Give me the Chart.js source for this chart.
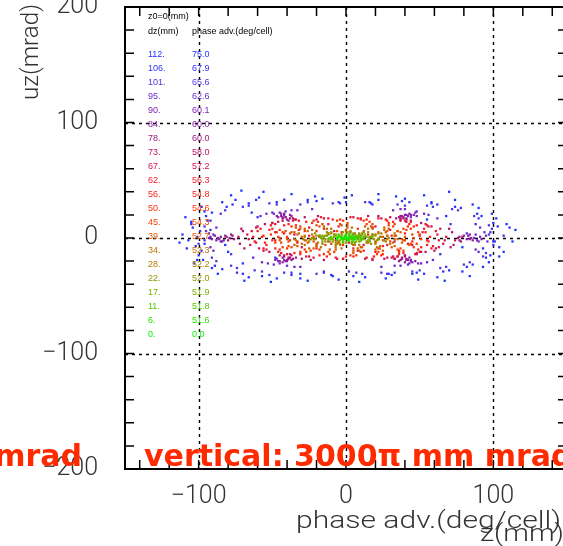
<!DOCTYPE html>
<html>
<head>
<meta charset="utf-8">
<script src="https://cdn.jsdelivr.net/npm/chart.js@4.4.1/dist/chart.umd.min.js"></script>
<style>
  html, body { margin: 0; padding: 0; background: #fff; overflow: hidden; }
  #wrap { position: absolute; left: 0; top: 0; width: 600px; height: 546px; }
</style>
</head>
<body>
<div id="wrap"><canvas id="chart" width="600" height="546"></canvas></div>
<script>
// dz groups, top row of the legend first
const dzLabels = ['112.', '106.', '101.', '95.', '90.', '84.', '78.', '73.', '67.', '62.', '56.',
  '50.', '45.', '39.', '34.', '28.', '22.', '17.', '11.', '6.', '0.'];
const phaseLabels = ['75.0', '67.9', '65.6', '62.6', '60.1', '60.0', '60.0', '58.0', '57.2', '56.3', '54.8',
  '54.6', '54.3', '52.7', '52.3', '52.2', '52.0', '51.9', '51.8', '51.6', '0.0'];
const groupColors = ['rgb(30,50,255)', 'rgb(45,50,240)', 'rgb(75,55,225)', 'rgb(105,40,205)', 'rgb(125,35,185)',
  'rgb(140,30,160)', 'rgb(160,25,130)', 'rgb(185,20,100)', 'rgb(210,20,75)', 'rgb(235,25,45)', 'rgb(250,35,25)',
  'rgb(255,50,0)', 'rgb(240,70,0)', 'rgb(215,90,0)', 'rgb(195,110,0)', 'rgb(170,130,0)', 'rgb(145,150,0)',
  'rgb(120,175,0)', 'rgb(80,200,0)', 'rgb(40,225,0)', 'rgb(0,245,0)'];

// [z (mm), uz (mrad)] per group
const g112 = [[-111,3],[-108,-9],[-105,14],[-101,-19],[-96,23],[-91,-26],[-84,31],[-78,37],[-71,41],[-66,-34],
  [-59,35],[-51,-38],[-42,33],[-31,-35],[-21,36],[-9,-33],[-1,35],[9,-38],[16,31],[27,-35],[34,36],[45,-31],
  [53,37],[62,-34],[70,40],[79,-29],[86,29],[93,-25],[99,21],[104,-16],[109,12],[113,-3],[115,7],[79,-8],[-82,-6],[-64,22],
  [-113,-4],[-109,18],[-103,-22],[-98,27],[-87,-31],[-80,-12],[-75,33],[-69,-37],[-56,40],[-47,-35],[-37,38],
  [-26,-37],[-16,34],[-5,-36],[4,37],[13,-34],[22,38],[31,-32],[40,34],[49,-36],[58,30],[67,-37],[74,33],
  [84,-33],[90,26],[97,-21],[102,17],[107,-12],[111,9],[88,12],[-92,15],[-70,-22],[68,19],[100,-3]];
const g106 = [[-107,-2],[-104,9],[-100,-15],[-95,19],[-89,-24],[-81,27],[-74,-30],[-66,30],[-57,-33],[-47,31],
  [-37,-32],[-26,33],[-15,-30],[-5,31],[5,-33],[17,30],[28,-31],[38,32],[48,-30],[58,31],[66,-29],[74,27],
  [82,-25],[89,21],[95,-17],[100,13],[104,-8],[107,2],[-92,7],[93,-9],[-48,-17],[55,16],
  [-105,12],[-102,-7],[-97,-19],[-91,22],[-84,-27],[-77,29],[-70,-31],[-61,33],[-52,-32],[-42,33],[-31,-31],
  [-20,32],[-10,-32],[0,31],[11,-31],[22,33],[33,-30],[43,31],[53,-31],[62,29],[70,-28],[78,26],[86,-23],
  [92,19],[98,-15],[103,10],[-60,18],[64,-14],[-96,-5],[98,5]];
const g101 = [[-101,1],[-98,-11],[-94,15],[-88,-20],[-82,24],[-74,-26],[-66,28],[-57,-29],[-47,29],[-37,-30],
  [-26,31],[-15,-29],[-4,30],[7,-30],[18,29],[29,-31],[40,28],[50,-28],[59,27],[68,-25],[76,24],[84,-21],
  [90,17],[95,-13],[99,8],[101,-3],[-99,6],[97,3],[-78,-14],[71,12],
  [-100,-5],[-96,10],[-91,-17],[-85,21],[-78,-24],[-70,27],[-62,-28],[-52,30],[-42,-30],[-31,29],[-20,-31],
  [-9,30],[2,-29],[13,31],[24,-30],[35,29],[45,-29],[55,28],[64,-26],[72,25],[80,-23],[87,19],[93,-16],
  [97,11],[100,-6],[-85,-3],[82,4]];
const g95 = [[96,-3],[94,5],[91,9],[88,-10],[56,20],[48,23],[40,25],[32,24],[-33,24],[-41,23],[-50,22],[-58,19],
  [-88,9],[-93,4],[-96,-2],[-92,-8],[-57,-21],[-49,-23],[-40,-24],[-31,-25],[33,-24],[42,-23],[51,-22],[59,-19],
  [-23,25],[24,-25],[62,17],[-63,-17],[95,2],[90,-12],[-95,6],[-90,-11],[53,21],[37,25],[-37,24],[-54,21],
  [-53,-22],[-35,-25],[37,-24],[55,-21]];
const g90 = [[91,1],[89,-2],[88,3],[92,-1],[87,0],[46,20],[43,21],[48,19],[41,20],[44,18],
  [-44,21],[-47,19],[-42,20],[-49,21],[-45,22],[-91,-1],[-89,2],[-92,1],[-88,-2],[-90,3],
  [-46,-20],[-43,-21],[-48,-19],[-41,-20],[-45,-22],[45,-21],[42,-19],[47,-20],[49,-22],[44,-19],
  [90,-3],[-93,0],[47,22],[-43,18],[-47,-18],[43,-22]];
const g84 = [[85,0],[83,2],[86,-2],[82,-1],[84,3],[42,19],[39,18],[44,20],[37,19],[41,17],
  [-41,18],[-44,19],[-38,20],[-46,18],[-40,16],[-85,1],[-83,-2],[-86,-1],[-82,2],[-84,-3],
  [-42,-19],[-39,-18],[-45,-20],[-37,-19],[-43,-17],[41,-19],[38,-18],[44,-20],[36,-20],[43,-17],
  [84,-1],[-87,0],[40,20],[-42,21],[-40,-20],[40,-21]];
const g78 = [[79,1],[77,-2],[80,2],[76,0],[78,-3],[39,17],[36,18],[41,16],[34,17],[38,19],
  [-38,17],[-41,18],[-35,16],[-43,17],[-37,19],[-79,0],[-77,2],[-80,-2],[-76,-1],[-78,3],
  [-39,-17],[-36,-18],[-42,-16],[-34,-17],[-40,-19],[38,-17],[35,-16],[41,-18],[33,-18],[40,-15],
  [77,1],[-81,1],[37,16],[-39,15],[-37,-15],[37,-19]];
const g73 = [[74,-2],[72,5],[70,8],[73,-6],[44,15],[37,17],[30,18],[22,19],[-28,18],[-36,17],[-43,15],[-50,13],
  [-70,6],[-73,1],[-72,-5],[-69,-9],[-45,-15],[-38,-17],[-30,-18],[-24,-19],[26,-18],[33,-18],[40,-16],[48,-14],
  [-60,10],[60,-11],[15,19],[-15,-19],[71,-8],[-71,8],[51,13],[-55,12],[-52,-12],[54,-12],[18,-19],[-19,19]];
const g67 = [[68,1],[66,-5],[64,8],[61,-9],[55,11],[48,-13],[41,14],[32,-16],[24,17],[14,-17],[5,18],[-6,-18],
  [-15,17],[-25,-16],[-34,16],[-42,-15],[-50,13],[-56,-11],[-61,9],[-65,-6],[-67,3],[-66,-1],[20,10],[-30,-8],
  [45,-6],[-48,5],[8,-11],[-12,12],[67,-2],[63,-8],[58,10],[51,-12],[37,15],[28,-17],[10,17],[-2,-18],
  [-20,16],[-38,-14],[-46,14],[-59,-9],[-64,6],[33,-3],[-8,6],[-35,3],[52,5],[2,-4]];
const g62 = [[63,-2],[61,6],[58,-9],[54,12],[47,-14],[40,15],[31,-17],[22,17],[13,-18],[3,18],[-7,-17],[-17,18],
  [-27,-16],[-36,15],[-44,-13],[-51,11],[-56,-9],[-60,6],[-62,-3],[-63,1],[30,7],[-20,-9],[50,2],[-42,4],
  [12,-6],[-5,10],[36,-11],[-33,-4],[62,3],[59,-7],[56,10],[50,-12],[44,14],[35,-16],[27,16],[18,-18],
  [8,17],[-2,-18],[-12,17],[-22,-17],[-32,15],[-40,-14],[-48,12],[-54,-10],[-58,8],[-61,-4],[42,-5],
  [-12,-3],[20,-12],[-48,-2],[5,3],[-25,9],[28,-6],[55,-2]];
const g56 = [[57,1],[55,-6],[53,8],[49,-10],[43,12],[36,-14],[28,15],[19,-16],[10,16],[0,-16],[-9,16],[-18,-15],
  [-27,14],[-35,-13],[-42,11],[-48,-9],[-52,7],[-55,-4],[-57,1],[25,-7],[-15,8],[40,4],[-38,-2],[5,-9],
  [-25,2],[18,9],[-46,-12],[48,11],[56,-3],[54,5],[51,-8],[46,10],[39,-13],[32,14],[24,-15],[14,16],
  [5,-16],[-4,16],[-13,-16],[-22,15],[-31,-14],[-39,12],[-45,-10],[-50,8],[-54,-6],[-56,2],[31,2],
  [-7,-2],[12,-11],[-32,7],[45,-3],[-20,-5],[0,7],[22,-1]];
const g50 = [[51,-1],[49,5],[46,-8],[42,10],[36,-12],[29,13],[21,-14],[12,15],[3,-15],[-6,15],[-15,-14],[-23,13],
  [-31,-12],[-37,10],[-43,-8],[-47,5],[-50,-2],[-51,3],[15,3],[-10,-5],[30,-3],[-28,6],[8,8],[-40,1],
  [35,6],[-18,-10],[22,-9],[-3,5],[50,3],[48,-5],[44,8],[39,-11],[33,12],[25,-14],[16,14],[7,-15],
  [-2,15],[-11,-14],[-19,14],[-27,-12],[-34,11],[-40,-9],[-45,7],[-48,-4],[25,1],[-2,-6],[-33,-3],
  [40,-2],[10,-8],[-20,6],[18,9],[-45,0]];
const g45 = [[46,0],[44,-5],[41,7],[37,-9],[32,10],[25,-11],[18,12],[10,-12],[1,13],[-8,-12],[-16,12],[-24,-11],
  [-31,10],[-37,-8],[-41,6],[-44,-4],[-46,1],[20,-3],[-12,4],[33,2],[-28,-2],[5,-6],[-35,5],[12,6],[-20,-7],[27,5],
  [45,3],[43,-6],[39,8],[35,-10],[29,11],[22,-12],[14,12],[5,-13],[-4,12],[-12,-12],[-20,11],[-28,-10],
  [-34,9],[-39,-7],[-43,5],[-45,-2],[8,1],[-22,1],[38,-1],[-5,-4]];
const g39 = [[40,1],[38,-4],[35,6],[31,-8],[26,9],[20,-10],[13,10],[5,-11],[-3,11],[-11,-10],[-18,10],[-25,-9],
  [-31,8],[-35,-6],[-38,4],[-40,-1],[15,-4],[-8,3],[28,2],[-22,-3],[3,5],[-30,1],[22,5],[-14,-6],
  [39,-2],[37,5],[33,-7],[29,8],[23,-9],[17,10],[9,-11],[1,11],[-7,-10],[-15,10],[-22,-9],[-28,8],
  [-33,-7],[-37,5],[-39,-3],[10,-2],[-18,2],[33,-1],[0,-4],[-26,-4],[18,3],[-6,6]];
const g34 = [[35,-1],[33,4],[30,-5],[26,7],[21,-8],[15,8],[8,-9],[1,9],[-7,-8],[-13,8],[-20,-7],[-26,6],
  [-30,-5],[-33,3],[-35,-1],[10,2],[-5,-3],[20,3],[-18,1],[25,-2],[-28,2],[4,-4],
  [34,2],[32,-4],[28,6],[23,-7],[18,8],[11,-8],[4,9],[-3,-9],[-10,8],[-17,-8],[-23,7],[-28,-6],
  [-32,4],[-34,-2],[14,-3],[-12,3],[28,-1],[-24,-1],[0,0],[6,4],[-6,-5],[20,-4]];
const g28 = [[29,0],[27,-3],[24,4],[20,-5],[15,5],[9,-6],[3,6],[-4,-6],[-10,5],[-16,-5],[-21,4],[-25,-3],
  [-28,1],[-29,-1],[12,1],[-6,-2],[18,2],[-14,2],[22,-1],[0,3],
  [28,2],[26,-2],[22,4],[17,-5],[12,5],[6,-6],[0,6],[-7,-6],[-13,5],[-19,-4],[-23,3],[-27,-2],
  [16,0],[-9,-1],[4,-1],[-18,1],[24,1],[-3,3],[9,3],[-24,-1]];
const g22 = [[23,1],[21,-2],[18,3],[14,-4],[9,4],[4,-5],[-2,5],[-7,-4],[-12,4],[-16,-3],[-20,2],[-22,-1],
  [-23,0],[10,-1],[-4,1],[16,1],[-14,-1],[2,-2],
  [22,-1],[20,2],[16,-3],[11,4],[6,-4],[1,5],[-4,-5],[-10,4],[-14,-3],[-18,2],[-21,-1],[13,1],
  [-1,-1],[-8,1],[19,-1],[7,2],[-17,0],[4,0]];
const g17 = [[18,0],[16,-2],[13,3],[9,-3],[5,4],[0,-4],[-5,3],[-9,-3],[-13,2],[-16,-1],[-17,1],[7,0],[-3,1],
  [12,-1],[-10,0],[2,2],[17,1],[15,-2],[11,3],[7,-3],[3,4],[-2,-4],[-7,3],[-11,-3],[-15,1],[-16,2],
  [10,0],[-6,-1],[14,1],[0,1],[-12,-1],[5,-1]];
const g11 = [[12,1],[10,-2],[7,2],[4,-3],[0,3],[-4,-2],[-7,2],[-10,-1],[-11,0],[6,0],[-2,-1],[9,1],[-6,0],[2,-1],
  [11,-1],[9,2],[5,-3],[2,3],[-2,-3],[-5,2],[-9,-1],[-10,1],[8,-1],[0,0],[-4,1],[3,1]];
const g6 = [[7,0],[6,-1],[4,2],[2,-2],[0,1],[-2,-1],[-4,1],[-6,0],[3,0],[-3,0],[1,-1],[5,1],
  [6,1],[5,-1],[3,1],[1,-2],[-1,2],[-3,-1],[-5,1],[-6,-1],[2,0],[-2,0]];
const g0 = [[0,0],[1,0],[-1,0]];
const groups = [g112, g106, g101, g95, g90, g84, g78, g73, g67, g62, g56, g50, g45, g39, g34, g28, g22, g17, g11, g6, g0];

// axes
const xTicks = [-140, -120, -100, -80, -60, -40, -20, 0, 20, 40, 60, 80, 100, 120, 140];
const yTicks = [-200, -180, -160, -140, -120, -100, -80, -60, -40, -20, 0, 20, 40, 60, 80, 100, 120, 140, 160, 180, 200];
const xGrid = [-100, 0, 100];
const yGrid = [-100, 0, 100];

const minus = (v) => (v < 0 ? '\u2212' + Math.abs(v) : String(v));
const thin = 'Roboto, "DejaVu Sans", sans-serif';

// draw a string squeezed/stretched to a given width
function fitText(ctx, text, x, y, width, align) {
  const w = ctx.measureText(text).width;
  ctx.save();
  ctx.translate(x, y);
  ctx.scale(width / w, 1);
  ctx.textAlign = align;
  ctx.fillText(text, 0, 0);
  ctx.restore();
}

const overlay = {
  id: 'overlay',
  beforeDatasetsDraw(chart) {
    const { ctx, chartArea: a, scales: { x, y } } = chart;
    ctx.save();
    ctx.strokeStyle = '#000';
    ctx.lineWidth = 1.4;
    ctx.setLineDash([3, 4]);
    xGrid.forEach((v) => {
      const px = Math.round(x.getPixelForValue(v)) + 0.5;
      ctx.beginPath(); ctx.moveTo(px, a.top); ctx.lineTo(px, a.bottom); ctx.stroke();
    });
    yGrid.forEach((v) => {
      const py = Math.round(y.getPixelForValue(v)) + 0.5;
      ctx.beginPath(); ctx.moveTo(a.left, py); ctx.lineTo(a.right, py); ctx.stroke();
    });
    ctx.restore();
  },
  afterDatasetsDraw(chart) {
    const { ctx, chartArea: a, scales: { x, y } } = chart;
    ctx.save();
    ctx.strokeStyle = '#000';
    ctx.lineWidth = 1.5;
    const len = 9;
    x.ticks.forEach((t) => {
      const px = x.getPixelForValue(t.value);
      ctx.beginPath();
      ctx.moveTo(px, a.bottom); ctx.lineTo(px, a.bottom - len);
      ctx.moveTo(px, a.top); ctx.lineTo(px, a.top + len);
      ctx.stroke();
    });
    y.ticks.forEach((t) => {
      const py = y.getPixelForValue(t.value);
      ctx.beginPath();
      ctx.moveTo(a.left, py); ctx.lineTo(a.left + len, py);
      ctx.moveTo(a.right, py); ctx.lineTo(a.right - len, py);
      ctx.stroke();
    });
    ctx.lineWidth = 2;
    ctx.strokeRect(a.left, a.top, a.right - a.left, a.bottom - a.top);

    // legend block
    ctx.font = '9px "Liberation Sans", Arial, sans-serif';
    ctx.textBaseline = 'middle';
    ctx.textAlign = 'left';
    ctx.fillStyle = '#000';
    ctx.fillText('z0=0(mm)', 148, 17);
    ctx.fillText('dz(mm)', 148, 32);
    ctx.fillText('phase adv.(deg/cell)', 192, 32);
    dzLabels.forEach((s, i) => {
      ctx.fillStyle = groupColors[i];
      ctx.fillText(s, 148, 55 + i * 14);
      ctx.fillText(phaseLabels[i], 192, 55 + i * 14);
    });
    ctx.restore();
  },
  afterDraw(chart) {
    const { ctx } = chart;
    ctx.save();
    ctx.fillStyle = '#333';
    ctx.font = '300 23px ' + thin;
    ctx.textBaseline = 'middle';
    ctx.translate(32, 52);
    ctx.rotate(-Math.PI / 2);
    fitText(ctx, 'uz(mrad)', 0, 0, 96, 'center');
    ctx.restore();

    ctx.save();
    ctx.fillStyle = '#333';
    ctx.font = '300 23px ' + thin;
    ctx.textBaseline = 'middle';
    fitText(ctx, 'phase adv.(deg/cell)', 561, 522, 265, 'right');
    fitText(ctx, 'z(mm)', 480, 535, 84, 'left');
    ctx.restore();

    ctx.save();
    ctx.fillStyle = '#ff2a00';
    ctx.font = 'bold 30px "DejaVu Sans", sans-serif';
    ctx.textBaseline = 'alphabetic';
    ctx.textAlign = 'left';
    ctx.fillText('vertical: 3000\u03c0 mm mrad', 144, 466);
    ctx.textAlign = 'right';
    ctx.fillText('mrad', 82, 466);
    ctx.restore();
  }
};

new Chart(document.getElementById('chart'), {
  type: 'scatter',
  data: {
    datasets: groups.map((pts, i) => ({
      label: dzLabels[i],
      data: pts.map(([z, uz]) => ({ x: z, y: uz })),
      backgroundColor: groupColors[i],
      borderWidth: 0,
      pointStyle: 'rect',
      pointRadius: 1.6,
      order: groups.length - 1 - i,
    })),
  },
  options: {
    responsive: false,
    animation: false,
    events: [],
    layout: { padding: { left: 0, top: 7, right: 33, bottom: 0 } },
    plugins: { legend: { display: false }, tooltip: { enabled: false } },
    scales: {
      x: {
        type: 'linear',
        min: -150,
        max: 150,
        afterBuildTicks: (s) => { s.ticks = xTicks.map((v) => ({ value: v })); },
        afterFit: (s) => { s.height = 77; s.paddingLeft = 0; s.paddingRight = 0; },
        ticks: {
          autoSkip: false,
          maxRotation: 0,
          padding: 13,
          color: '#333',
          font: { family: thin, size: 25, weight: '300' },
          callback: (v) => (v % 100 === 0 ? minus(v) : ''),
        },
        grid: { display: false, drawTicks: false },
        border: { display: false },
      },
      y: {
        type: 'linear',
        min: -200,
        max: 200,
        afterBuildTicks: (s) => { s.ticks = yTicks.map((v) => ({ value: v })); },
        afterFit: (s) => { s.width = 125; s.paddingTop = 0; s.paddingBottom = 0; },
        ticks: {
          autoSkip: false,
          padding: 27,
          color: '#333',
          font: { family: thin, size: 25, weight: '300' },
          callback: (v) => (v % 100 === 0 ? minus(v) : ''),
        },
        grid: { display: false, drawTicks: false },
        border: { display: false },
      },
    },
  },
  plugins: [overlay],
});
</script>
</body>
</html>
